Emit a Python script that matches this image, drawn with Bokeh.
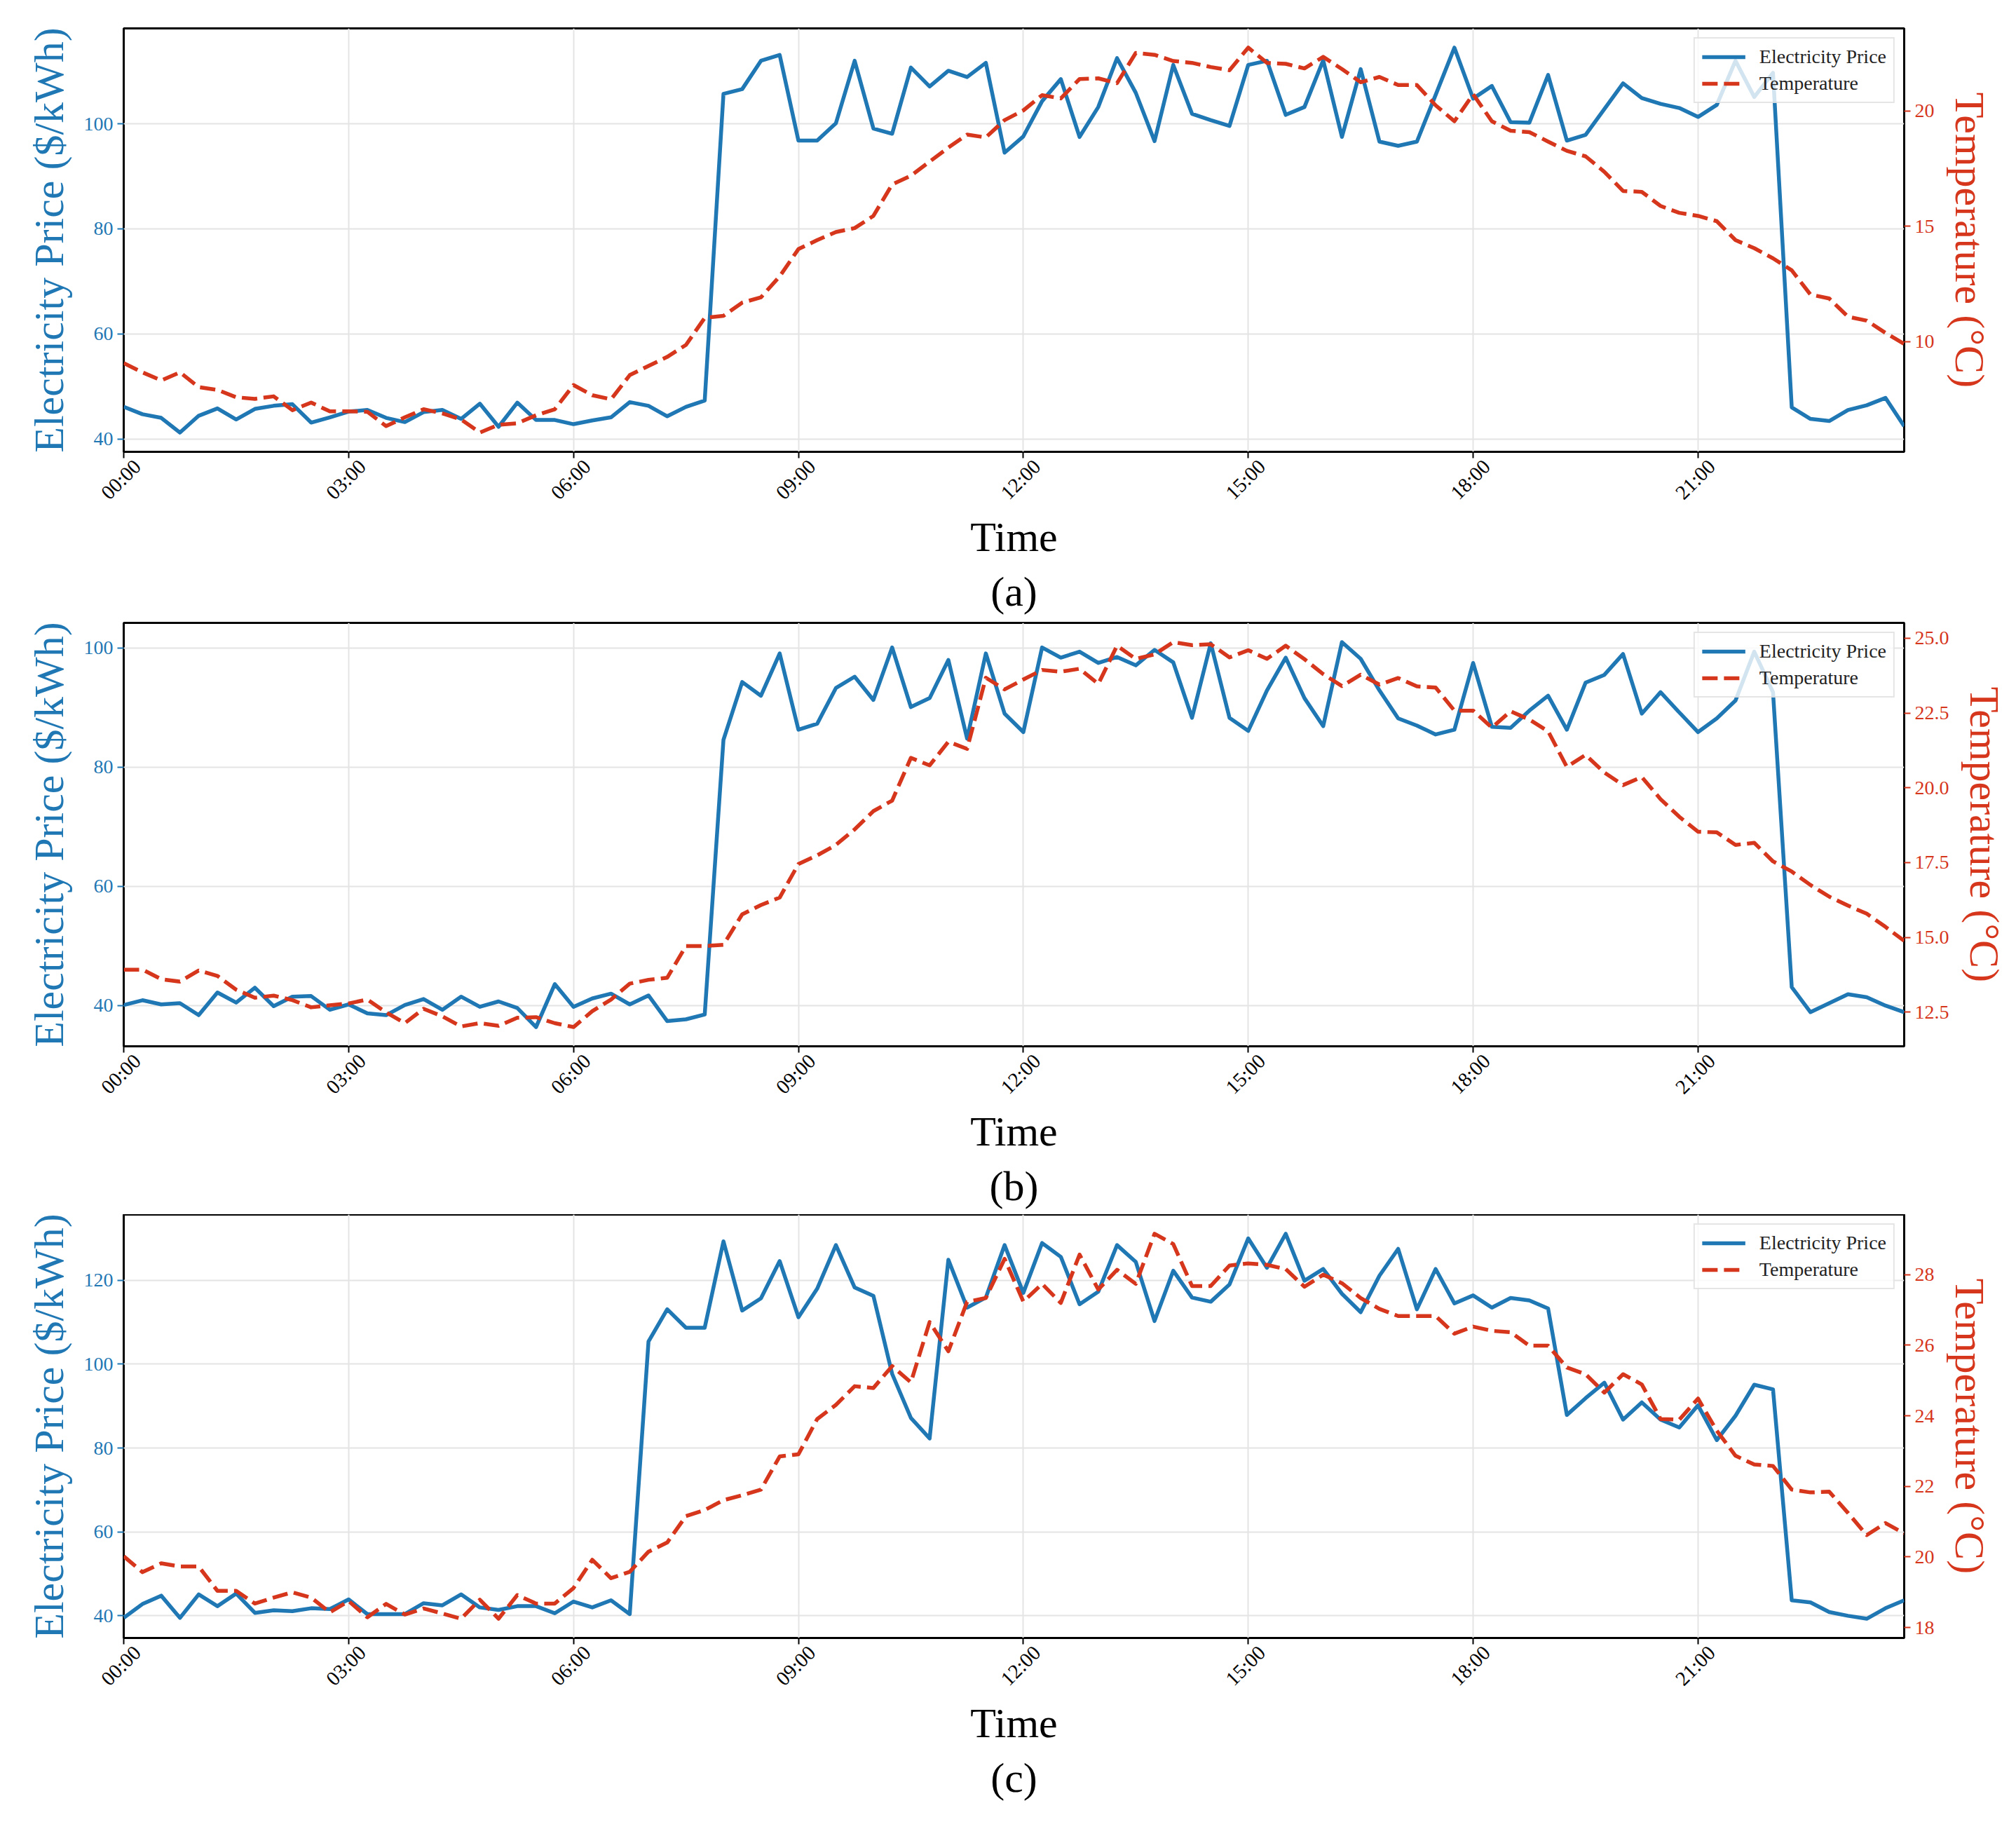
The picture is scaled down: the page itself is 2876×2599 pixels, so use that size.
from bokeh.plotting import figure
from bokeh.models import (Range1d, LinearAxis, FixedTicker, Legend, LegendItem,
                          Title, PrintfTickFormatter, CustomLabelingPolicy)
from bokeh.layouts import column
from bokeh.embed import file_html
from bokeh.resources import INLINE

# ---------------- data ----------------
# 15-minute time stamps, in hours from 00:00 to 23:45
HOURS = [i * 0.25 for i in range(96)]
X_TICKS = [0, 3, 6, 9, 12, 15, 18, 21]
X_TICK_LABELS = ["00:00", "03:00", "06:00", "09:00", "12:00", "15:00", "18:00", "21:00"]

PRICE_A = [46.1, 44.7, 44.0, 41.2, 44.4, 45.8, 43.7, 45.7, 46.3, 46.6, 43.1, 44.1,
           45.2, 45.5, 44.0, 43.2, 45.1, 45.5, 43.8, 46.7, 42.3, 46.9, 43.6, 43.6,
           42.8, 43.5, 44.1, 47.0, 46.3, 44.3, 46.1, 47.3,
           105.7, 106.6, 112.0, 113.1, 96.8, 96.8, 100.1, 112.0, 99.1, 98.1, 110.7,
           107.1, 110.1, 108.9, 111.6, 94.5, 97.6, 104.3, 108.5, 97.5, 103.2, 112.5,
           105.9, 96.7, 111.2, 101.9, 100.7, 99.6, 111.2, 112.0, 101.7, 103.2, 112.1,
           97.5, 110.4, 96.6, 95.8, 96.6, 105.5, 114.5, 104.8, 107.2, 100.3, 100.2,
           109.3, 96.8, 97.9, 102.8, 107.7, 104.9, 103.8, 103.0, 101.3, 103.6, 112.0,
           105.1, 109.7, 46.0, 43.8, 43.4, 45.5, 46.4, 47.8, 42.4]
TEMP_A = [9.07, 8.67, 8.32, 8.67, 8.03, 7.91, 7.59, 7.52, 7.63, 7.03, 7.36, 6.98,
          6.98, 6.96, 6.34, 6.72, 7.07, 6.89, 6.63, 6.06, 6.40, 6.46, 6.81, 7.07,
          8.12, 7.68, 7.50, 8.55, 8.95, 9.34, 9.86, 11.03,
          11.12, 11.69, 11.92, 12.83, 14.01, 14.40, 14.75, 14.92, 15.45, 16.81, 17.19,
          17.80, 18.41, 18.97, 18.85, 19.60, 20.02, 20.68, 20.54, 21.38, 21.41, 21.20,
          22.51, 22.43, 22.16, 22.08, 21.90, 21.76, 22.74, 22.08, 22.04, 21.84, 22.34,
          21.81, 21.24, 21.47, 21.12, 21.12, 20.24, 19.55, 20.72, 19.55, 19.14, 19.08,
          18.67, 18.27, 18.03, 17.36, 16.53, 16.49, 15.88, 15.58, 15.45, 15.22, 14.40,
          14.05, 13.61, 13.09, 12.04, 11.87, 11.08, 10.91, 10.38, 9.90]

PRICE_B = [40.1, 40.9, 40.2, 40.4, 38.4, 42.2, 40.5, 43.0, 39.9, 41.5, 41.6, 39.3,
           40.2, 38.7, 38.4, 40.1, 41.1, 39.3, 41.5, 39.8, 40.7, 39.6, 36.4, 43.6,
           39.8, 41.2, 42.0, 40.2, 41.7, 37.4, 37.7, 38.5, 84.6,
           94.3, 92.0, 99.1, 86.3, 87.3, 93.3, 95.2, 91.3, 100.1, 90.1, 91.6, 98.0,
           84.8, 99.1, 89.0, 85.9, 100.1, 98.4, 99.4, 97.5, 98.5, 97.1, 99.7, 97.6,
           88.3, 100.8, 88.3, 86.1, 92.9, 98.4, 91.6, 86.9,
           101.0, 98.2, 92.9, 88.2, 87.0, 85.5, 86.3, 97.5, 86.8, 86.6, 89.5, 92.0,
           86.3, 94.2, 95.5, 99.0, 89.0, 92.6, 89.2, 85.9, 88.2, 91.2, 99.4, 92.6,
           43.1, 38.9, 40.4, 41.9, 41.4, 40.0, 38.9]
TEMP_B = [13.92, 13.92, 13.60, 13.52, 13.89, 13.71, 13.25, 12.98, 13.05, 12.90, 12.66,
          12.73, 12.79, 12.92, 12.49, 12.13, 12.61, 12.36, 12.02, 12.13, 12.04, 12.31,
          12.33, 12.13, 12.00, 12.53, 12.92, 13.45, 13.58, 13.65, 14.71, 14.71, 14.75,
          15.77, 16.08, 16.33, 17.45, 17.74, 18.09, 18.61, 19.22, 19.57, 21.00, 20.75,
          21.54, 21.30, 23.68, 23.29, 23.62, 23.94, 23.88, 23.98, 23.47, 24.75, 24.31,
          24.46, 24.87, 24.77, 24.80, 24.36, 24.60, 24.31, 24.75, 24.30, 23.80, 23.40,
          23.78, 23.45, 23.67, 23.39, 23.35, 22.58, 22.58, 22.01, 22.56, 22.28, 21.89,
          20.70, 21.10, 20.51, 20.09, 20.36, 19.62, 19.03, 18.53, 18.51, 18.09, 18.16,
          17.54, 17.20, 16.75, 16.36, 16.06, 15.79, 15.35, 14.88]

PRICE_C = [39.5, 42.8, 44.8, 39.5, 45.1, 42.3, 45.3, 40.7, 41.3, 41.1, 41.8, 41.6,
           43.9, 40.4, 40.4, 40.4, 43.0, 42.5, 45.1, 42.0, 41.4, 42.3, 42.3, 40.6,
           43.4, 42.0, 43.7, 40.4, 105.4, 113.1, 108.7, 108.7, 129.3,
           112.8, 115.7, 124.6, 111.2, 118.0, 128.4, 118.3, 116.3, 97.7, 87.2, 82.3,
           124.9, 113.5, 115.9, 128.4, 117.0, 128.9, 125.6, 114.3, 117.3, 128.4, 124.4,
           110.3, 122.3, 115.9, 114.9, 119.0, 130.0, 123.0, 131.1, 119.9, 122.7, 116.8,
           112.4, 121.1, 127.5, 113.1, 122.7, 114.5, 116.4, 113.5, 115.8, 115.2, 113.3,
           87.9, 91.9, 95.6, 86.8, 90.9, 86.8, 84.9, 90.2, 81.9, 87.7, 95.1, 94.0,
           43.7, 43.2, 40.9, 40.0, 39.3, 41.8, 43.7]
TEMP_C = [20.02, 19.57, 19.82, 19.73, 19.73, 19.04, 19.04, 18.68, 18.85, 19.00, 18.85,
          18.43, 18.75, 18.29, 18.67, 18.37, 18.54, 18.40, 18.25, 18.79, 18.25, 18.92,
          18.68, 18.68, 19.12, 19.92, 19.40, 19.58, 20.15, 20.41, 21.16, 21.33, 21.61,
          21.75, 21.91, 22.85, 22.91, 23.91, 24.31, 24.84, 24.79, 25.41, 24.95, 26.66,
          25.83, 27.23, 27.34, 28.45, 27.24, 27.74, 27.20, 28.57, 27.58, 28.14, 27.74,
          29.16, 28.87, 27.68, 27.68, 28.26, 28.32, 28.28, 28.16, 27.66, 28.00, 27.76,
          27.34, 27.03, 26.83, 26.83, 26.83, 26.33, 26.53, 26.41, 26.37, 25.99, 25.99,
          25.37, 25.18, 24.66, 25.18, 24.89, 23.91, 23.89, 24.49, 23.58, 22.87, 22.62,
          22.58, 21.91, 21.83, 21.85, 21.25, 20.62, 20.96, 20.67]

LEFT_TICKS_A = [40, 60, 80, 100]
RIGHT_TICKS_A = [10, 15, 20]
LEFT_TICKS_B = [40, 60, 80, 100]
RIGHT_TICKS_B = [12.5, 15.0, 17.5, 20.0, 22.5, 25.0]
LEFT_TICKS_C = [40, 60, 80, 100, 120]
RIGHT_TICKS_C = [18, 20, 22, 24, 26, 28]

CAPTIONS = ["(a)", "(b)", "(c)"]
PRICE_LABEL = "Electricity Price ($/kWh)"
TEMP_LABEL = "Temperature (\u00b0C)"
X_LABEL = "Time"
LEGEND_LABELS = ["Electricity Price", "Temperature"]

# ---------------- style ----------------
FONT = "Liberation Serif"
BLUE = "#1f77b4"
RED = "#d6361c"
GRID = "#e4e4e4"
# rotated tick labels are centred on their tick (label anchor moved right, in hours)
LABEL_SHIFT = 0.18

HIDE_ALL_LABELS = CustomLabelingPolicy(code="""
for (const i of indices) {
    indices.unset(i)
}
return indices
""")


def padded(vals):
    lo, hi = min(vals), max(vals)
    m = (hi - lo) * 0.05
    return lo - m, hi + m


def style_axis(ax, color, tick_color):
    ax.axis_line_color = None
    ax.major_tick_in = 0
    ax.major_tick_out = 9
    ax.major_tick_line_color = tick_color
    ax.major_tick_line_width = 2
    ax.minor_tick_line_color = None
    ax.major_label_text_font = FONT
    ax.major_label_text_font_size = "28px"
    ax.major_label_text_color = color
    ax.axis_label_text_font = FONT
    ax.axis_label_text_font_size = "60px"
    ax.axis_label_text_font_style = "normal"
    ax.axis_label_text_color = color


def make_panel(price, temp, lticks, rticks, rfmt, caption, top):
    plo, phi = padded(price)
    tlo, thi = padded(temp)
    p = figure(frame_width=2540, frame_height=604,
               x_range=Range1d(HOURS[0], HOURS[-1]),
               y_range=Range1d(plo, phi),
               output_backend="svg", toolbar_location=None,
               min_border_left=176, min_border_right=160,
               min_border_top=top, min_border_bottom=0)
    p.extra_y_ranges = {"temp": Range1d(tlo, thi)}
    p.background_fill_color = "white"
    p.border_fill_color = "white"
    p.outline_line_color = "black"
    p.outline_line_width = 3

    r1 = p.line(HOURS, price, line_color=BLUE, line_width=5.5, line_join="round")
    r2 = p.line(HOURS, temp, y_range_name="temp", line_color=RED, line_width=5.5,
                line_dash="22 9", line_join="round")

    # x axis 1: tick marks only (grid follows it), its labels are filtered out
    xa = p.xaxis[0]
    xa.ticker = FixedTicker(ticks=X_TICKS)
    style_axis(xa, "black", "black")
    xa.major_label_policy = HIDE_ALL_LABELS
    xa.major_label_text_font_size = "1px"
    xa.major_label_standoff = 0

    # x axis 2: rotated labels centred on the ticks + axis title
    shifted = [round(t + LABEL_SHIFT, 2) for t in X_TICKS]
    xb = LinearAxis(ticker=FixedTicker(ticks=shifted),
                    major_label_overrides={s: l for s, l in zip(shifted, X_TICK_LABELS)},
                    axis_label=X_LABEL)
    style_axis(xb, "black", "black")
    xb.major_tick_out = 0
    xb.major_tick_line_color = None
    xb.major_label_text_font_size = "29px"
    xb.major_label_orientation = 0.785398
    xb.major_label_standoff = 3
    xb.axis_label_standoff = 0
    p.add_layout(xb, "below")

    ya = p.yaxis[0]
    ya.ticker = FixedTicker(ticks=lticks)
    ya.axis_label = PRICE_LABEL
    style_axis(ya, BLUE, BLUE)
    ya.major_label_standoff = 6
    ya.axis_label_standoff = 14

    ra = LinearAxis(y_range_name="temp", ticker=FixedTicker(ticks=rticks),
                    axis_label=TEMP_LABEL)
    if rfmt:
        ra.formatter = PrintfTickFormatter(format=rfmt)
    style_axis(ra, RED, RED)
    ra.major_label_standoff = 6
    ra.axis_label_standoff = 14
    p.add_layout(ra, "right")

    p.xgrid.grid_line_color = GRID
    p.xgrid.grid_line_width = 2
    p.ygrid.grid_line_color = GRID
    p.ygrid.grid_line_width = 2

    legend = Legend(items=[LegendItem(label=LEGEND_LABELS[0], renderers=[r1]),
                           LegendItem(label=LEGEND_LABELS[1], renderers=[r2])],
                    location="top_right")
    legend.label_text_font = FONT
    legend.label_text_font_size = "28px"
    legend.label_text_color = "#222222"
    legend.glyph_width = 62
    legend.glyph_height = 30
    legend.label_standoff = 20
    legend.spacing = 6
    legend.padding = 10
    legend.margin = 13
    legend.border_line_color = "#cccccc"
    legend.border_line_width = 2
    legend.background_fill_alpha = 0.8
    p.add_layout(legend)

    cap = Title(text=caption, align="center", text_font=FONT, text_font_size="60px",
                text_font_style="normal", text_color="black", standoff=15)
    p.add_layout(cap, "below")
    return p


pa = make_panel(PRICE_A, TEMP_A, LEFT_TICKS_A, RIGHT_TICKS_A, None, CAPTIONS[0], 40)
pb = make_panel(PRICE_B, TEMP_B, LEFT_TICKS_B, RIGHT_TICKS_B, "%.1f", CAPTIONS[1], 4)
pc = make_panel(PRICE_C, TEMP_C, LEFT_TICKS_C, RIGHT_TICKS_C, None, CAPTIONS[2], 0)

layout = column(pa, pb, pc, spacing=0)
open("out.html", "w").write(file_html(layout, INLINE))
